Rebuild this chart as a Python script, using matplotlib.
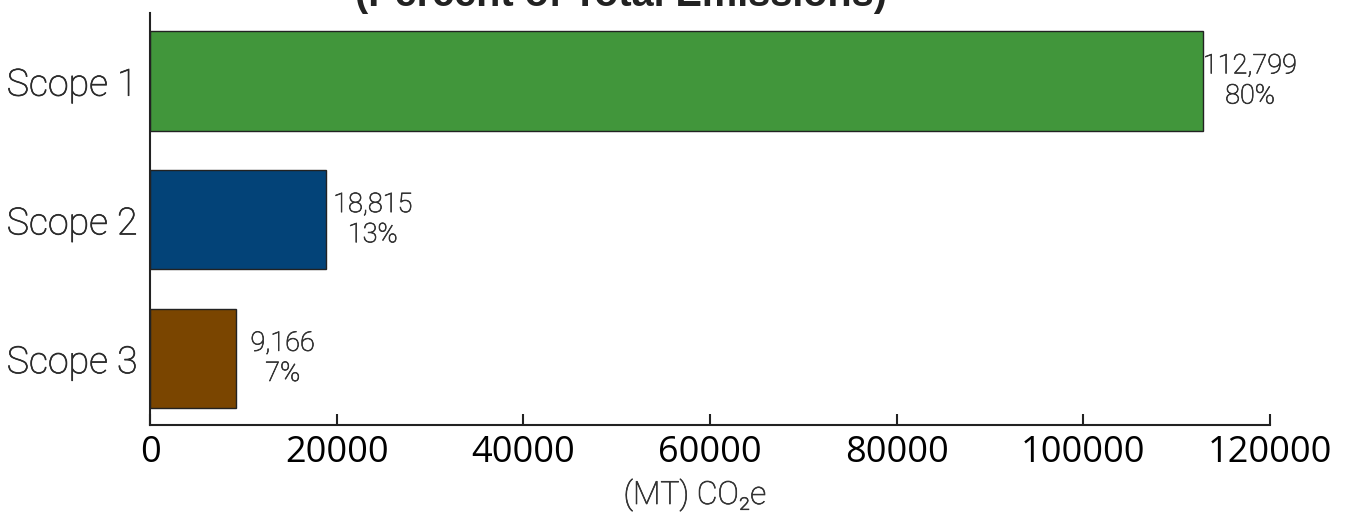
# Scope 1/2/3 emissions, horizontal bars with value + share labels
import matplotlib.pyplot as plt
import matplotlib.patheffects as pe

scopes = ['Scope 1', 'Scope 2', 'Scope 3']
emissions = [112799, 18815, 9166]
shares = ['80%', '13%', '7%']
bar_colors = ['#41963B', '#034378', '#7A4500']
xticks = [0, 20000, 40000, 60000, 80000, 100000, 120000]

W, H = 1347, 512
fig = plt.figure(figsize=(W / 100, H / 100), dpi=100)
ax = fig.add_axes([150 / W, 1 - 425 / H, 1120 / W, 412 / H])

# Roboto Light renders a bit thinner than the original, thicken it slightly
def thicken(color):
    return [pe.withStroke(linewidth=0.5, foreground=color)]

ax.barh(range(len(scopes)), emissions, height=0.715, color=bar_colors,
        edgecolor='#222222', linewidth=1.0)
ax.set_ylim(2.48, -0.49)
ax.set_xlim(0, 120000)

# value labels, centred a bit to the right of each bar end
for i, (v, s) in enumerate(zip(emissions, shares)):
    ax.annotate(f'{v:,}\n{s}', xy=(v, i), xytext=(34, 0), textcoords='offset points',
                ha='center', va='center', fontsize=19.5, family='Roboto',
                fontweight='light', color='#333333', linespacing=1.15,
                path_effects=thicken('#333333'))

ax.set_yticks(range(len(scopes)))
ax.set_yticklabels(scopes, family='Roboto', fontweight='light', fontsize=27, color='#2a2a2a',
                   path_effects=thicken('#2a2a2a'))
ax.tick_params(axis='y', length=0, pad=9)

ax.set_xticks(xticks)
ax.set_xticklabels([str(t) for t in xticks], family='Open Sans', fontsize=26, color='black')
ax.tick_params(axis='x', direction='in', length=8, width=1.5, color='#222222', pad=7)

ax.set_xlabel('(MT) CO\u2082e', family=['Roboto', 'DejaVu Sans'], fontweight='light',
              fontsize=23, color='#333333', va='baseline', path_effects=thicken('#333333'))
ax.xaxis.set_label_coords((695 - 150) / 1120, -(504 - 425) / 412)

for side in ['top', 'right']:
    ax.spines[side].set_visible(False)
for side in ['left', 'bottom']:
    ax.spines[side].set_color('#222222')
    ax.spines[side].set_linewidth(1.5)

# title is cut off by the top edge in the original
fig.text(621 / W, 1 - 6 / H, '(Percent of Total Emissions)', ha='center', va='baseline',
         family='Liberation Sans', fontweight='bold', fontsize=28.5, color='#222222')

fig.savefig('out.png', dpi=100)
